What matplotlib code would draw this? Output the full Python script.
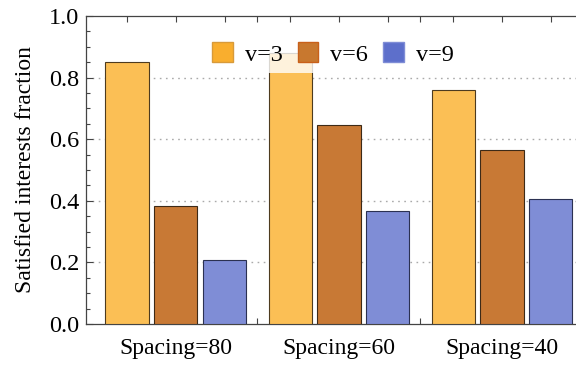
import numpy as np
import matplotlib
matplotlib.use('Agg')
import matplotlib.pyplot as plt
from matplotlib.patches import Patch

WIDTH = 576
HEIGHT = 365
DPI = 100

groups = ['Spacing=80', 'Spacing=60', 'Spacing=40']
series_names = ['v=3', 'v=6', 'v=9']
v3 = [0.85, 0.88, 0.76]
v6 = [0.383, 0.646, 0.566]
v9 = [0.208, 0.367, 0.406]

bar_colors = ['#fbbf55', '#c87935', '#7f8dd6']
edge_colors = ['#4d3b1f', '#3d2a17', '#2b3152']
swatch_colors = ['#f9ae2e', '#c8782f', '#5d6fcb']
swatch_edges = ['#d89a3a', '#c8601a', '#7f8dd6']

plt.rcParams['font.family'] = ['Liberation Serif', 'DejaVu Serif']

fig = plt.figure(figsize=(WIDTH / DPI, HEIGHT / DPI), dpi=DPI)
ax = fig.add_axes([86 / WIDTH, 41 / HEIGHT, 490 / WIDTH, 308 / HEIGHT])

group_step = 3.342
bar_w = 0.885
centers = np.arange(len(groups)) * group_step

for i, vals in enumerate([v3, v6, v9]):
    ax.bar(centers + (i - 1), vals, width=bar_w, color=bar_colors[i],
           edgecolor=edge_colors[i], linewidth=0.8, zorder=3)

# ticks at every bar centre plus between the groups
tick_pos = []
tick_lab = []
for k, c in enumerate(centers):
    tick_pos += [c - 1, c, c + 1]
    tick_lab += ['', groups[k], '']
for c in centers[:-1]:
    tick_pos.append(c + group_step / 2)
    tick_lab.append('')
ax.set_xticks(tick_pos)
ax.set_xticklabels(tick_lab, fontsize=17)
ax.set_xlim(-1.842, 8.2)

ax.set_ylim(0, 1.0)
ax.set_yticks(np.arange(0, 1.01, 0.2))
ax.set_yticklabels(['%.1f' % t for t in np.arange(0, 1.01, 0.2)], fontsize=17.5)
ax.set_yticks(np.arange(0, 1.001, 0.05), minor=True)
ax.set_ylabel('Satisfied interests fraction', fontsize=17, labelpad=9)

ax.tick_params(axis='x', direction='in', top=True, length=4, width=0.8,
               color='#444444', pad=10)
ax.tick_params(axis='y', which='major', direction='in', length=5, width=0.8,
               color='#444444', pad=5)
ax.tick_params(axis='y', which='minor', direction='in', length=3, width=0.8,
               color='#444444')

for y in [0.2, 0.4, 0.6, 0.8]:
    ax.axhline(y, color='#aaaaaa', linewidth=1.0, linestyle=(0, (1.2, 3.2)),
               zorder=1)

for side in ['left', 'bottom', 'top']:
    ax.spines[side].set_color('#444444')
    ax.spines[side].set_linewidth(0.9)
ax.spines['right'].set_visible(False)

handles = [Patch(facecolor=swatch_colors[i], edgecolor=swatch_edges[i],
                 linewidth=1.0, label=series_names[i]) for i in range(3)]
leg = fig.legend(handles=handles, loc='center', ncol=3,
                 bbox_to_anchor=(333 / WIDTH, 1 - 54 / HEIGHT),
                 fontsize=17.5, handlelength=0.85, handleheight=0.85,
                 handletextpad=0.5, columnspacing=0.6, borderpad=0.3,
                 frameon=True, fancybox=False)
leg.get_frame().set_facecolor('white')
leg.get_frame().set_alpha(0.8)
leg.get_frame().set_edgecolor('none')

fig.savefig('out.png', dpi=DPI)
